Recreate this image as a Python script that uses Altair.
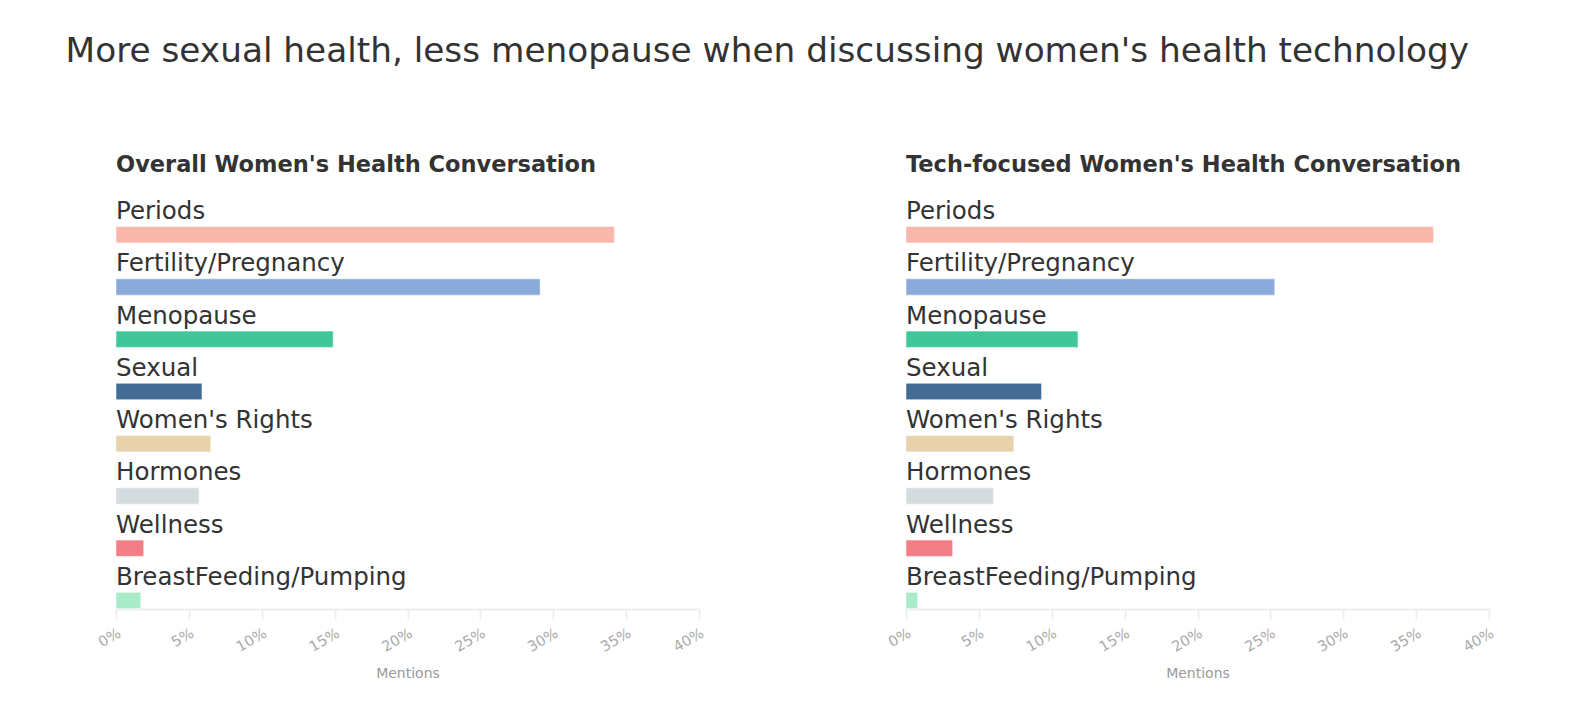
import altair as alt
import pandas as pd

categories = ["Periods", "Fertility/Pregnancy", "Menopause", "Sexual",
              "Women's Rights", "Hormones", "Wellness", "BreastFeeding/Pumping"]
overall = [34.2, 29.1, 14.9, 5.9, 6.5, 5.7, 1.9, 1.7]
tech = [36.2, 25.3, 11.8, 9.3, 7.4, 6.0, 3.2, 0.8]
colors = ["#f9b8ab", "#8aaadb", "#40c799", "#426b96",
          "#e8d2ab", "#d3dde0", "#f27d84", "#a8ebc9"]
x_ticks = [0, 5, 10, 15, 20, 25, 30, 35, 40]

FONT = "DejaVu Sans"


def panel(values, title):
    df = pd.DataFrame({"Topic": categories, "Share": [v / 100 for v in values]})
    y = alt.Y("Topic:N", sort=categories, axis=None,
              scale=alt.Scale(paddingInner=0, paddingOuter=0))
    bars = alt.Chart(df).mark_bar(height=16.3, yOffset=17.6, stroke="white", strokeWidth=0.5).encode(
        x=alt.X("Share:Q",
                scale=alt.Scale(domain=[0, 0.4], nice=False),
                axis=alt.Axis(values=[t / 100 for t in x_ticks], format=".0%",
                              title="Mentions", labelAngle=-30, grid=False,
                              domainColor="#eeeeee", domainWidth=2,
                              tickColor="#eeeeee", tickWidth=2, tickSize=10,
                              labelColor="#aaaaaa", labelFontSize=14.5, labelFont=FONT,
                              labelPadding=7,
                              titleColor="#999999", titleFontSize=14, titleFont=FONT,
                              titleFontWeight="normal", titlePadding=13)),
        y=y,
        color=alt.Color("Topic:N", scale=alt.Scale(domain=categories, range=colors), legend=None),
    )
    labels = alt.Chart(df).mark_text(align="left", baseline="alphabetic", yOffset=2,
                                     fontSize=24.5, font=FONT, color="#333333").encode(
        x=alt.value(0),
        y=y,
        text="Topic:N",
    )
    return alt.layer(bars, labels).properties(
        width=583, height=418,
        title=alt.TitleParams(text=title, anchor="start", frame="group", fontSize=22.5,
                              font=FONT, fontWeight="bold", color="#333333", offset=15),
    )


chart = alt.hconcat(
    panel(overall, "Overall Women's Health Conversation"),
    panel(tech, "Tech-focused Women's Health Conversation"),
    spacing=179,
).properties(
    title=alt.TitleParams(text="More sexual health, less menopause when discussing women's health technology",
                          anchor="start", fontSize=34.3, font=FONT, fontWeight="normal",
                          color="#333333", dx=-30, offset=84.5),
    padding={"left": 57, "top": 26, "right": 5, "bottom": 5},
).configure_view(stroke=None)

chart.save("out.html", embed_options={"renderer": "svg", "actions": False})
